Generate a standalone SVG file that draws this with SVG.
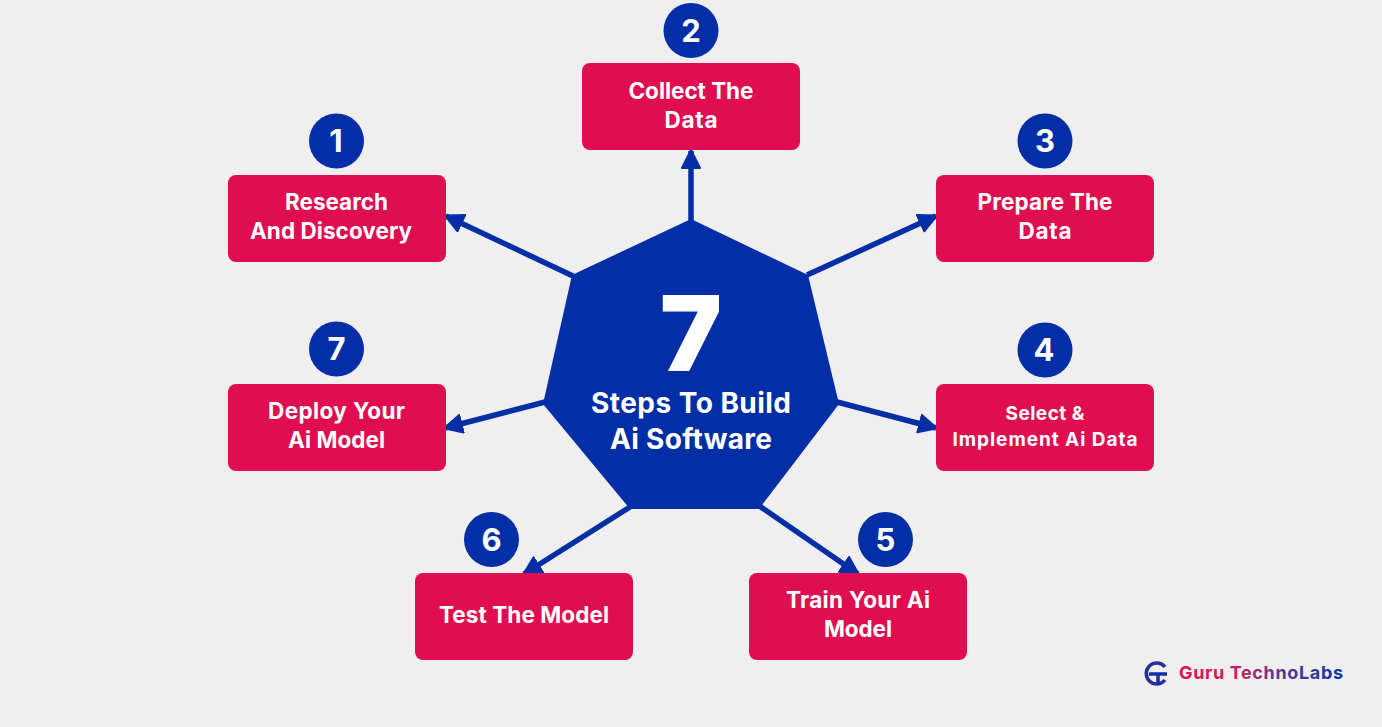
<svg xmlns="http://www.w3.org/2000/svg" width="1382" height="727" viewBox="0 0 1382 727">
<defs>
<linearGradient id="brand" gradientUnits="userSpaceOnUse" x1="1179" y1="0" x2="1343" y2="0"><stop offset="0" stop-color="#e30f50"/><stop offset="0.3" stop-color="#d81a55"/><stop offset="0.65" stop-color="#5a3590"/><stop offset="1" stop-color="#0a34a5"/></linearGradient>
<marker id="arrow" markerUnits="userSpaceOnUse" markerWidth="24" markerHeight="24" refX="18" refY="10" orient="auto"><path d="M1 1 L19 10 L1 19 Z" fill="#042ea6" stroke="#042ea6" stroke-width="2" stroke-linejoin="round"/></marker>
<style>
text{font-family:"Inter","Liberation Sans",sans-serif;font-weight:700;fill:#fff;text-anchor:middle}
.box{fill:#e00e50}
.badge{fill:#042ea6}
.num{font-size:31px;font-weight:700}
.lab{font-size:22.500px}
.small{font-size:19px}
.conn{stroke:#042ea6;stroke-width:5.500;fill:none;marker-end:url(#arrow)}
</style>
</defs>
<rect width="1382" height="727" fill="#efeff0"/>
<g id="connectors">
<line class="conn" x1="691" y1="222" x2="691" y2="151"/>
<line class="conn" x1="573" y1="276" x2="446" y2="216"/>
<line class="conn" x1="807" y1="275" x2="936" y2="216"/>
<line class="conn" x1="545" y1="402" x2="445" y2="428"/>
<line class="conn" x1="837" y1="402" x2="936" y2="428"/>
<line class="conn" x1="630" y1="507" x2="524" y2="574"/>
<line class="conn" x1="758" y1="505" x2="858" y2="574"/>
</g>
<g id="center">
<polygon points="691,219 808,275 839,404 759,509 630,509 543,404 572,275" fill="#042ea6"/>
<text x="691" y="371" style="font-size:104px;font-weight:900">7</text>
<text x="691" y="413" style="font-size:28px" textLength="200" lengthAdjust="spacing">Steps To Build</text>
<text x="691" y="449" style="font-size:28px" textLength="162" lengthAdjust="spacing">Ai Software</text>
</g>
<g id="step-1">
<circle class="badge" cx="336.500" cy="141" r="27.500"/><text class="num" x="336" y="152">1</text>
<rect class="box" x="228" y="175" width="218" height="87" rx="8"/>
<text class="lab" x="336.500" y="210" textLength="103" lengthAdjust="spacing">Research</text>
<text class="lab" x="331" y="239" textLength="162" lengthAdjust="spacing">And Discovery</text>
</g>
<g id="step-2">
<circle class="badge" cx="691" cy="30.500" r="27.500"/><text class="num" x="691" y="41.500">2</text>
<rect class="box" x="582" y="63" width="218" height="87" rx="8"/>
<text class="lab" x="691" y="99" textLength="125" lengthAdjust="spacing">Collect The</text>
<text class="lab" x="691" y="128" textLength="53" lengthAdjust="spacing">Data</text>
</g>
<g id="step-3">
<circle class="badge" cx="1045" cy="141" r="27.500"/><text class="num" x="1045" y="152">3</text>
<rect class="box" x="936" y="175" width="218" height="87" rx="8"/>
<text class="lab" x="1045" y="210" textLength="135" lengthAdjust="spacing">Prepare The</text>
<text class="lab" x="1045" y="239" textLength="53" lengthAdjust="spacing">Data</text>
</g>
<g id="step-4">
<circle class="badge" cx="1045" cy="350" r="27.500"/><text class="num" x="1044" y="361">4</text>
<rect class="box" x="936" y="384" width="218" height="87" rx="8"/>
<text class="lab small" x="1045" y="420" textLength="79" lengthAdjust="spacing">Select &amp;</text>
<text class="lab small" x="1045" y="446" textLength="185" lengthAdjust="spacing">Implement Ai Data</text>
</g>
<g id="step-5">
<circle class="badge" cx="885.500" cy="539.500" r="27.500"/><text class="num" x="885.500" y="550.500">5</text>
<rect class="box" x="749" y="573" width="218" height="87" rx="8"/>
<text class="lab" x="858" y="608" textLength="144" lengthAdjust="spacing">Train Your Ai</text>
<text class="lab" x="858" y="637" textLength="68" lengthAdjust="spacing">Model</text>
</g>
<g id="step-6">
<circle class="badge" cx="491.500" cy="539.500" r="27.500"/><text class="num" x="491.500" y="550.500">6</text>
<rect class="box" x="415" y="573" width="218" height="87" rx="8"/>
<text class="lab" x="524" y="623" textLength="170" lengthAdjust="spacing">Test The Model</text>
</g>
<g id="step-7">
<circle class="badge" cx="336.500" cy="349" r="27.500"/><text class="num" x="336.500" y="360">7</text>
<rect class="box" x="228" y="384" width="218" height="87" rx="8"/>
<text class="lab" x="336.500" y="419" textLength="137" lengthAdjust="spacing">Deploy Your</text>
<text class="lab" x="336.500" y="448" textLength="97" lengthAdjust="spacing">Ai Model</text>
</g>
<g id="brand-logo">
<path d="M1165 667 A10.500 10.500 0 1 0 1165 680" fill="none" stroke="#2a2c9f" stroke-width="3.500"/>
<path d="M1149 674 H1167 M1158 674 V684" fill="none" stroke="#14309f" stroke-width="3.500"/>
<text x="1261" y="679" style="font-size:18px;fill:url(#brand)" textLength="164" lengthAdjust="spacing">Guru TechnoLabs</text>
</g>
</svg>
